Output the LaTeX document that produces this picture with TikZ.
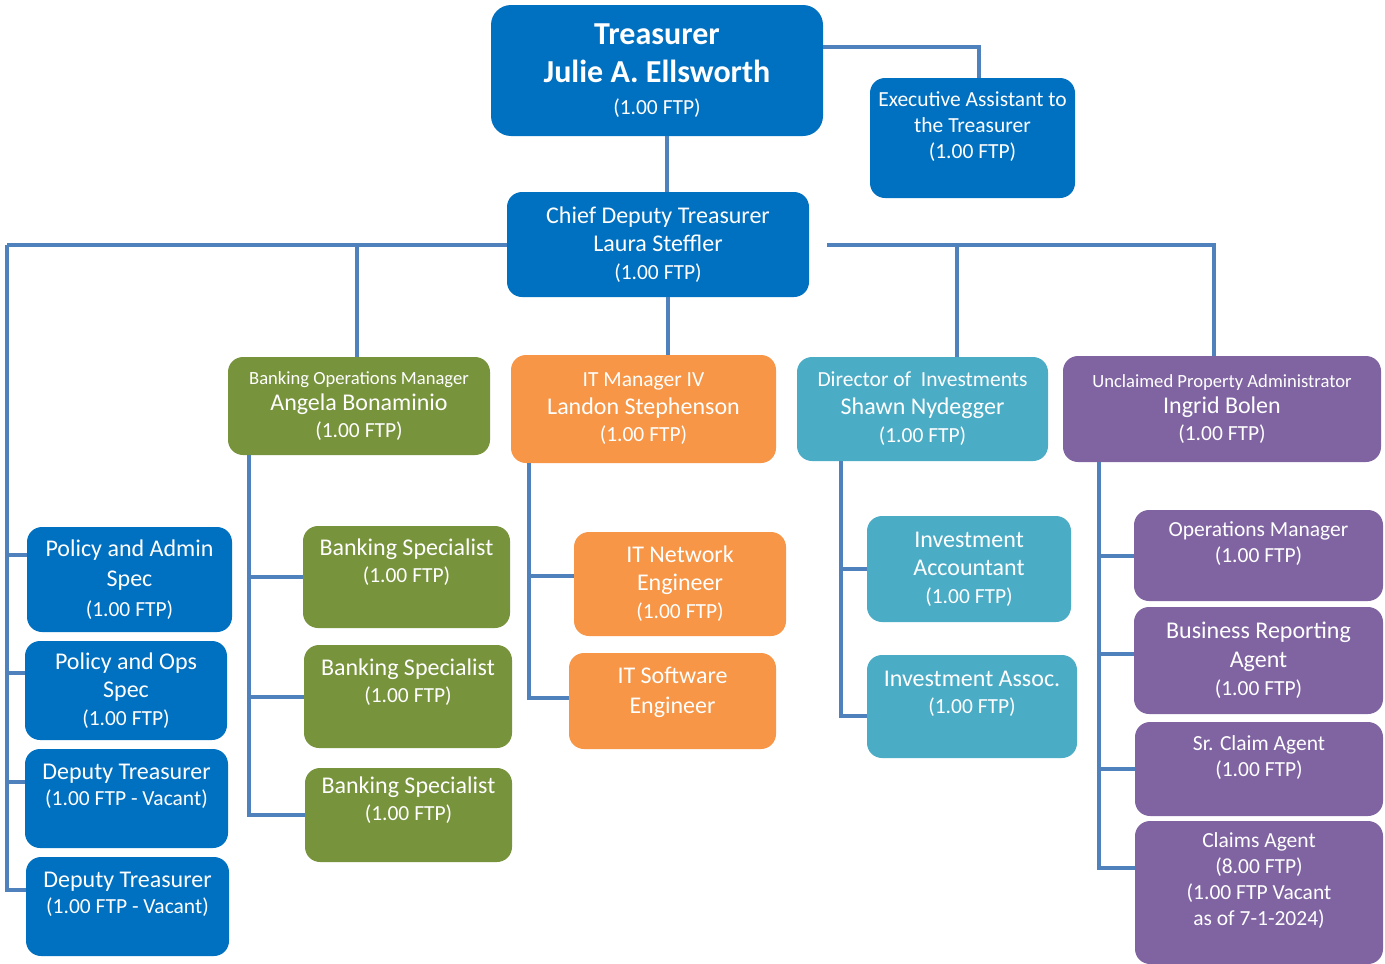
\documentclass[tikz,border=0pt]{standalone}
\usepackage{fontspec}
\setmainfont{Carlito}
\definecolor{cblue}{HTML}{0070C0}
\definecolor{cgreen}{HTML}{77933C}
\definecolor{corange}{HTML}{F79646}
\definecolor{cteal}{HTML}{4BACC6}
\definecolor{cpurple}{HTML}{8064A2}
\definecolor{cline}{HTML}{4F81BD}
\newcommand{\ttl}[1]{{\fontsize{18.6}{22}\selectfont #1}}
\newcommand{\sm}[1]{{\fontsize{21.5}{26}\selectfont #1}}
\newcommand{\gap}{\\[-7pt]\strut}
\begin{document}
\begin{tikzpicture}[x=1pt,y=-1pt,
  unit/.style={rounded corners=15pt, text=white, align=center, inner sep=2pt,
    font=\fontsize{24}{28}\selectfont},
  blueunit/.style={unit, fill=cblue},
  greenunit/.style={unit, fill=cgreen},
  orangeunit/.style={unit, fill=corange},
  tealunit/.style={unit, fill=cteal},
  purpleunit/.style={unit, fill=cpurple},
  link/.style={draw=cline, line width=4pt}]
\useasboundingbox (0,0) rectangle (1385,964);

% top
\node[blueunit, rounded corners=20pt, minimum width=332pt, minimum height=131pt,
  font=\fontsize{32}{34}\selectfont\bfseries] (trea) at (657,70.5)
  {Treasurer\\[4pt]Julie A. Ellsworth\\[-2pt]\sm{\mdseries(1.00 FTP)}};
\node[blueunit, minimum width=205pt, minimum height=120pt, font=\fontsize{21.5}{26}\selectfont] (exec) at (972.5,138)
  {Executive Assistant to\\the Treasurer\\(1.00 FTP)\gap};
\node[blueunit, minimum width=302pt, minimum height=105pt] (chief) at (658,244.5)
  {Chief Deputy Treasurer\\Laura Steffler\\\sm{(1.00 FTP)}};

% managers
\node[greenunit, minimum width=262pt, minimum height=98pt, font=\fontsize{24}{26.5}\selectfont] (bank) at (359,406)
  {\ttl{Banking Operations Manager}\\Angela Bonaminio\\\sm{(1.00 FTP)}};
\node[orangeunit, minimum width=265pt, minimum height=108pt, font=\fontsize{24}{27.5}\selectfont] (itm) at (643.5,409)
  {\sm{IT Manager IV}\\Landon Stephenson\\\sm{(1.00 FTP)}};
\node[tealunit, minimum width=251pt, minimum height=104pt] (inv) at (922.5,409)
  {\sm{Director of~ Investments}\\Shawn Nydegger\\\sm{(1.00 FTP)}};
\node[purpleunit, minimum width=318pt, minimum height=106pt, font=\fontsize{24}{26.5}\selectfont] (ucp) at (1222,409)
  {\ttl{Unclaimed Property Administrator}\\Ingrid Bolen\\\sm{(1.00 FTP)}};

% chief deputy staff
\node[blueunit, minimum width=205pt, minimum height=105pt, font=\fontsize{24}{30}\selectfont] (pa) at (129.5,579.5)
  {Policy and Admin\\Spec\\\sm{(1.00 FTP)}};
\node[blueunit, minimum width=202pt, minimum height=99pt] (po) at (126,690.5)
  {Policy and Ops\\Spec\\\sm{(1.00 FTP)}};
\node[blueunit, minimum width=203pt, minimum height=99pt, font=\fontsize{24}{26}\selectfont] (dt1) at (126.5,798.5)
  {Deputy Treasurer\\\sm{(1.00 FTP - Vacant)}\gap};
\node[blueunit, minimum width=203pt, minimum height=99pt, font=\fontsize{24}{26}\selectfont] (dt2) at (127.5,906.5)
  {Deputy Treasurer\\\sm{(1.00 FTP - Vacant)}\gap};

% banking
\node[greenunit, minimum width=207pt, minimum height=102pt, font=\fontsize{24}{27}\selectfont] (bs1) at (406.5,577)
  {Banking Specialist\\\sm{(1.00 FTP)}\\[-3pt]\strut};
\node[greenunit, minimum width=208pt, minimum height=103pt, font=\fontsize{24}{27}\selectfont] (bs2) at (408,696.5)
  {Banking Specialist\\\sm{(1.00 FTP)}\\[-3pt]\strut};
\node[greenunit, minimum width=207pt, minimum height=94pt, font=\fontsize{24}{27}\selectfont] (bs3) at (408.5,815)
  {Banking Specialist\\\sm{(1.00 FTP)}\\[-3pt]\strut};

% IT
\node[orangeunit, minimum width=212pt, minimum height=104pt] (itn) at (680,584)
  {IT Network\\Engineer\\\sm{(1.00 FTP)}};
\node[orangeunit, minimum width=207pt, minimum height=96pt, font=\fontsize{24}{30}\selectfont] (its) at (672.5,701)
  {IT Software\\Engineer\\[-18pt]\strut};

% investments
\node[tealunit, minimum width=204pt, minimum height=106pt] (iac) at (969,569)
  {Investment\\Accountant\\\sm{(1.00 FTP)}};
\node[tealunit, minimum width=210pt, minimum height=103pt, font=\fontsize{24}{27}\selectfont] (ias) at (972,706.5)
  {Investment Assoc.\\\sm{(1.00 FTP)}\gap};

% unclaimed property
\node[purpleunit, minimum width=249pt, minimum height=91pt, font=\fontsize{21.5}{26}\selectfont] (opm) at (1258.5,555.5)
  {Operations Manager\\(1.00 FTP)\gap};
\node[purpleunit, minimum width=249pt, minimum height=107pt, font=\fontsize{24}{28.5}\selectfont] (bra) at (1258.5,660.5)
  {Business Reporting\\Agent\\\sm{(1.00 FTP)}};
\node[purpleunit, minimum width=248pt, minimum height=94pt, font=\fontsize{21.5}{26}\selectfont] (sca) at (1259,769)
  {Sr. Claim Agent\\(1.00 FTP)\gap};
\node[purpleunit, minimum width=248pt, minimum height=143pt, font=\fontsize{21.5}{26}\selectfont] (cla) at (1259,892.5)
  {Claims Agent\\(8.00 FTP)\\(1.00 FTP Vacant\\as of 7-1-2024)\gap};

% bus points
\coordinate (lbus) at (7,0 |- chief.west);
\coordinate (rbus) at ([xshift=18pt]chief.east);
\coordinate (bbus) at ([xshift=21pt]bank.south west);
\coordinate (ibus) at ([xshift=18pt]itm.south west);
\coordinate (vbus) at ([xshift=44pt]inv.south west);
\coordinate (ubus) at ([xshift=36pt]ucp.south west);

% connectors
\draw[link] ([yshift=23.5pt]trea.east) -| ([xshift=6.5pt]exec.north);
\draw[link] ([xshift=10pt]trea.south) -- ([xshift=10pt]trea.south |- chief.north);
\draw[link] (chief.west) -- (lbus);
\draw[link] ([xshift=-2pt]bank.north) |- (chief.west);
\draw[link] ([xshift=10pt]chief.south) -- ([xshift=10pt]chief.south |- itm.north);
\draw[link] (rbus) -| ([xshift=-8pt]ucp.north);
\draw[link] ([xshift=34.5pt]inv.north) |- (rbus);

\draw[link] ([yshift=24.5pt]pa.west) -| (lbus);
\draw[link] ([yshift=17.5pt]po.west) -| (lbus);
\draw[link] ([yshift=16.5pt]dt1.west) -| (lbus);
\draw[link] ([yshift=16.5pt]dt2.west) -| (lbus);

\draw[link] (bs1.west) -| (bbus);
\draw[link] (bs2.west) -| (bbus);
\draw[link] (bs3.west) -| (bbus);

\draw[link] ([yshift=8pt]itn.west) -| (ibus);
\draw[link] ([yshift=3pt]its.west) -| (ibus);

\draw[link] (iac.west) -| (vbus);
\draw[link] ([yshift=-9pt]ias.west) -| (vbus);

\draw[link] (opm.west) -| (ubus);
\draw[link] ([yshift=7pt]bra.west) -| (ubus);
\draw[link] (sca.west) -| (ubus);
\draw[link] ([yshift=25pt]cla.west) -| (ubus);
\end{tikzpicture}
\end{document}
